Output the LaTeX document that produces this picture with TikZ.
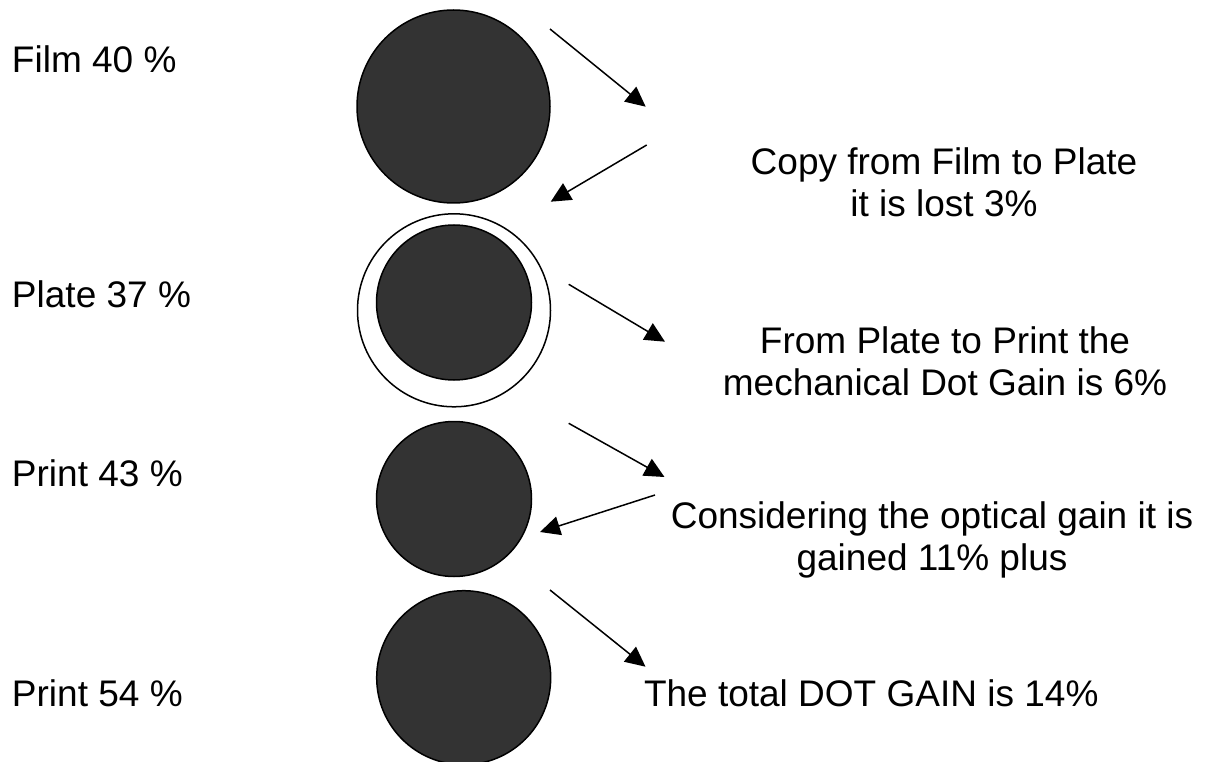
\documentclass[tikz,border=0pt]{standalone}
\usepackage{fontspec}
\setmainfont{Liberation Sans}
\usetikzlibrary{arrows.meta}
\definecolor{dotgray}{HTML}{333333}
\begin{document}
\begin{tikzpicture}[x=1pt,y=-1pt,
  dot/.style={circle,draw=black,line width=1.5pt,fill=dotgray,inner sep=0pt,outer sep=0pt},
  ring/.style={circle,draw=black,line width=1.5pt,fill=white,inner sep=0pt,outer sep=0pt},
  lab/.style={font=\fontsize{37}{42}\selectfont,inner sep=0pt,outer sep=0pt},
  arr/.style={line width=1.5pt,-{Triangle[length=20pt,width=19pt]}}]
\useasboundingbox (0,0) rectangle (1208,762);
% circles
\node[dot,minimum size=193pt] (film) at (453.5,106.5) {};
\node[ring,minimum size=193pt] (plateout) at (454,310.3) {};
\node[dot,minimum size=155pt] (plate) at (454,302.5) {};
\node[dot,minimum size=155pt] (print1) at (454,499) {};
\node[dot,minimum size=174pt] (print2) at (463.7,677.7) {};
% left labels
\node[lab,anchor=base west] (lfilm) at (12,73) {Film 40 \%};
\node[lab,anchor=base west] (lplate) at (12,308) {Plate 37 \%};
\node[lab,anchor=base west] (lprint1) at (12,486) {Print 43 \%};
\node[lab,anchor=base west] (lprint2) at (12,706) {Print 54 \%};
% descriptions (base = baseline of last line)
\node[lab,anchor=base,align=center] (tcopy) at (944,217) {Copy from Film to Plate\\it is lost 3\%};
\node[lab,anchor=base,align=center] (tmech) at (945,395) {From Plate to Print the\\mechanical Dot Gain is 6\%};
\node[lab,anchor=base,align=center] (topt) at (932,570) {Considering the optical gain it is\\gained 11\% plus};
\node[lab,anchor=base west] (ttotal) at (644,706) {The total DOT GAIN is 14\%};
% arrows
\coordinate (a1s) at (550,29);    \coordinate (a1e) at (645.7,106.7);
\coordinate (a2s) at (646.7,145); \coordinate (a2e) at (550.7,201.7);
\coordinate (a3s) at (568.7,284.3); \coordinate (a3e) at (665,341.7);
\coordinate (a4s) at (568.7,423.3); \coordinate (a4e) at (664.5,477);
\coordinate (a5s) at (655,495);   \coordinate (a5e) at (540,532);
\coordinate (a6s) at (550,590);   \coordinate (a6e) at (645.5,666.7);
\draw[arr] (a1s) -- (a1e);
\draw[arr] (a2s) -- (a2e);
\draw[arr] (a3s) -- (a3e);
\draw[arr] (a4s) -- (a4e);
\draw[arr] (a5s) -- (a5e);
\draw[arr] (a6s) -- (a6e);
\end{tikzpicture}
\end{document}
